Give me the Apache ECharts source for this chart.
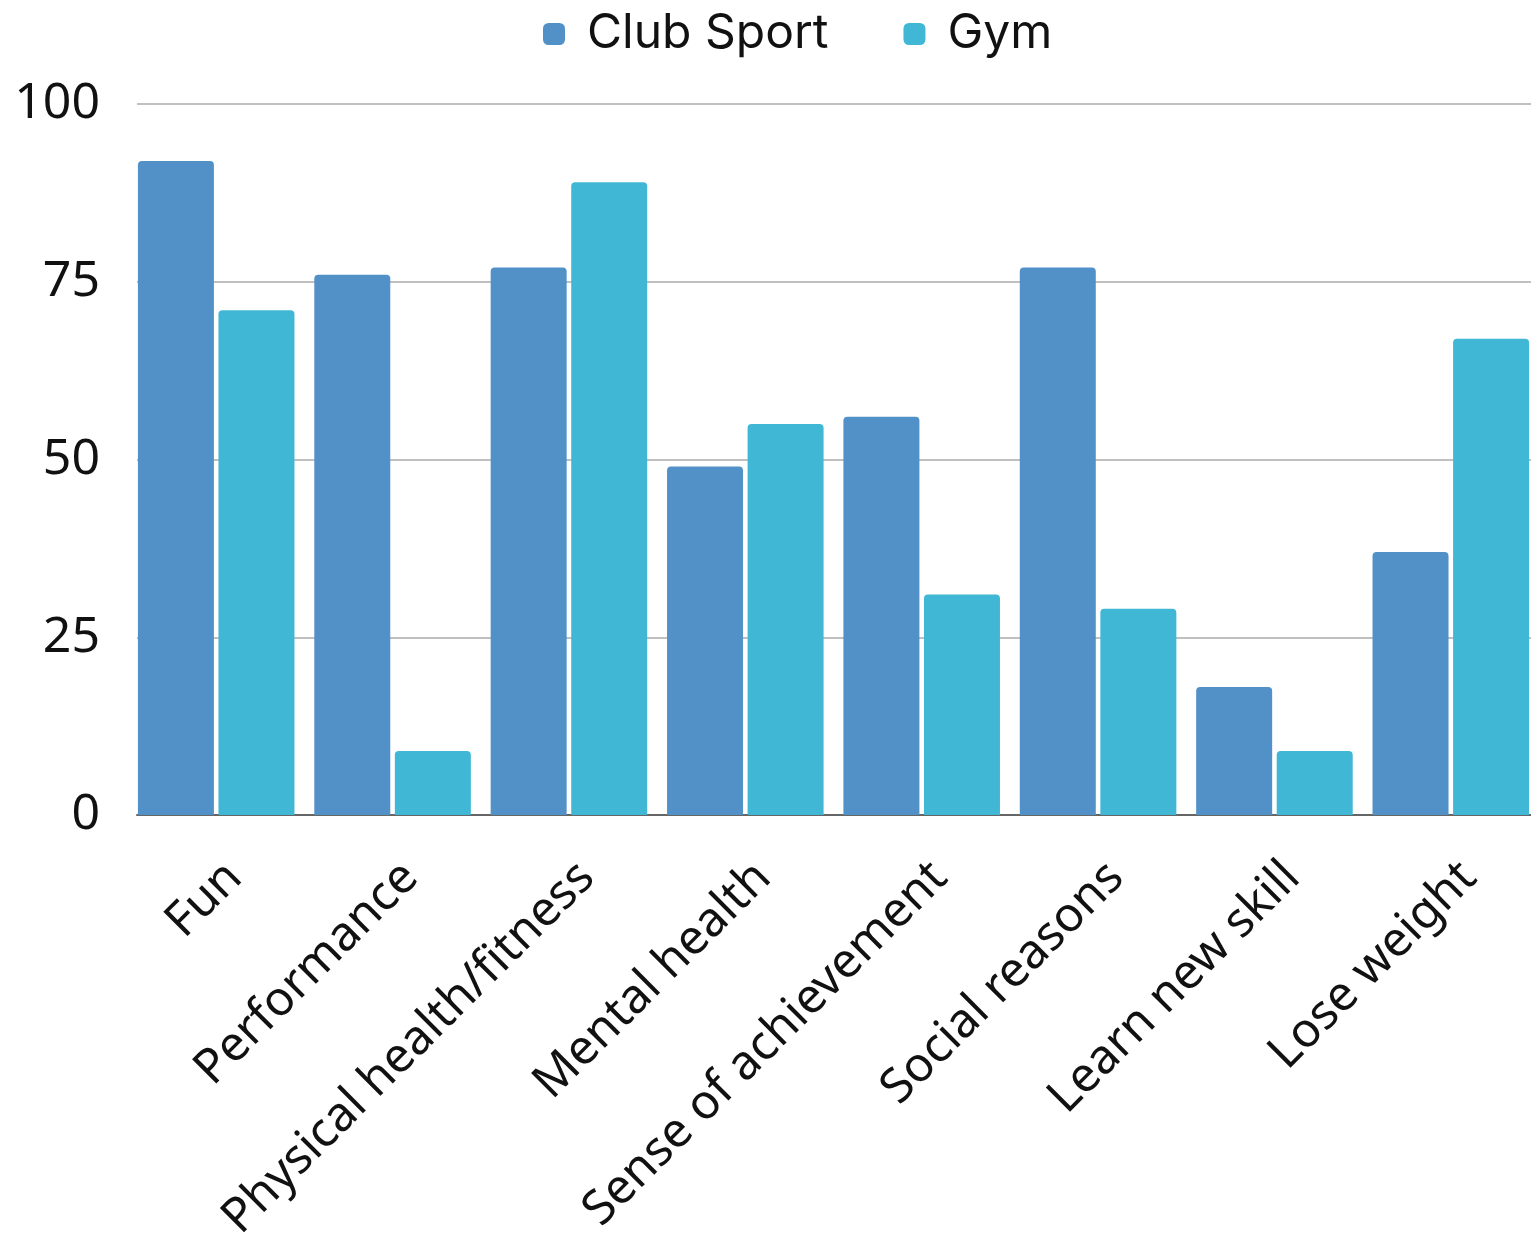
<!DOCTYPE html>
<html>
<head>
<meta charset="utf-8">
<script src="https://cdn.jsdelivr.net/npm/echarts@6/dist/echarts.min.js"></script>
<style>
  html, body { margin: 0; padding: 0; background: #fff; }
  #chart { width: 1531px; height: 1236px; }
</style>
</head>
<body>
<div id="chart"></div>
<script>
var categories = ['Fun', 'Performance', 'Physical health/fitness', 'Mental health',
  'Sense of achievement', 'Social reasons', 'Learn new skill', 'Lose weight'];
var clubSport = [92, 76, 77, 49, 56, 77, 18, 37];
var gym = [71, 9, 89, 55, 31, 29, 9, 67];
var yTicks = [0, 25, 50, 75, 100];

var chart = echarts.init(document.getElementById('chart'));

var option = {
  animation: false,
  legend: {
    top: 4,
    left: 538,
    itemWidth: 22,
    itemHeight: 22,
    itemGap: 75,
    icon: 'roundRect',
    textStyle: {
      fontFamily: 'Inter', fontSize: 48, lineHeight: 50, color: '#111',
      padding: [0, 0, 0, 17]
    },
    data: ['Club Sport', 'Gym']
  },
  grid: [
    // gridlines, y labels, baseline
    { left: 137, width: 1420, top: 104, height: 711, outerBoundsMode: 'none' },
    // bars
    { left: 128, width: 1411, top: 104, height: 711, outerBoundsMode: 'none' },
    // category labels, anchored a little to the right like the original
    { left: 146, width: 1411, top: 104, height: 711, outerBoundsMode: 'none' }
  ],
  xAxis: [
    {
      gridIndex: 0, type: 'category', data: categories,
      axisLabel: { show: false }, axisTick: { show: false },
      axisLine: { lineStyle: { color: '#666', width: 2 } }
    },
    {
      gridIndex: 1, type: 'category', data: categories,
      axisLabel: { show: false }, axisTick: { show: false }, axisLine: { show: false }
    },
    {
      gridIndex: 2, type: 'category', data: categories,
      axisTick: { show: false }, axisLine: { show: false },
      axisLabel: {
        interval: 0, rotate: 45, margin: 55,
        fontFamily: 'Noto Sans', fontSize: 48, color: '#111'
      }
    }
  ],
  yAxis: [
    {
      gridIndex: 0, type: 'value', min: 0, max: 100, interval: 25,
      axisLine: { show: false }, axisTick: { show: false },
      axisLabel: {
        margin: 37, fontFamily: 'Noto Sans', fontSize: 50, color: '#111',
        formatter: function (v) { return yTicks.indexOf(v) >= 0 ? v : ''; }
      },
      splitLine: { lineStyle: { color: '#c0c0c0', width: 2 } }
    },
    { gridIndex: 1, type: 'value', min: 0, max: 100, show: false },
    { gridIndex: 2, type: 'value', min: 0, max: 100, show: false }
  ],
  series: [
    {
      name: 'Club Sport', type: 'bar', xAxisIndex: 1, yAxisIndex: 1,
      data: clubSport, barWidth: 76, barGap: '6%',
      itemStyle: { color: '#5291c8', borderRadius: [4, 4, 0, 0] }
    },
    {
      name: 'Gym', type: 'bar', xAxisIndex: 1, yAxisIndex: 1,
      data: gym, barWidth: 76, barGap: '6%',
      itemStyle: { color: '#41b7d6', borderRadius: [4, 4, 0, 0] }
    }
  ]
};

chart.setOption(option);
</script>
</body>
</html>
